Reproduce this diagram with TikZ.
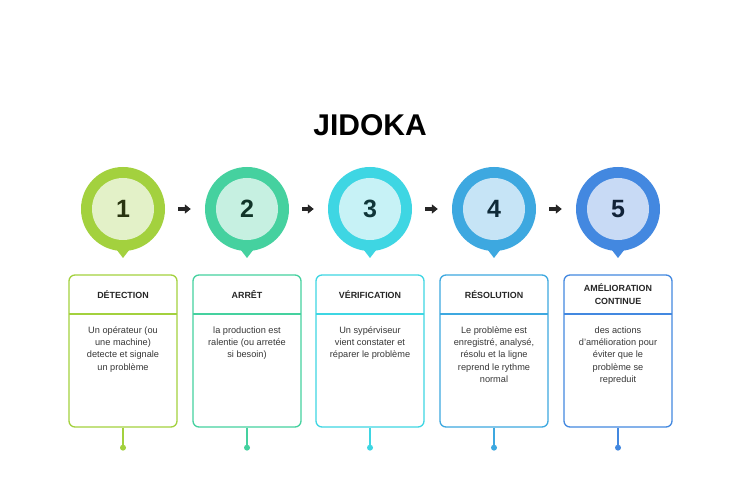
\documentclass[tikz,border=0pt]{standalone}
\usepackage{fontspec}
\setmainfont{Liberation Sans}
\usetikzlibrary{arrows.meta, positioning}

% Colores de las etapas
\definecolor{vertA}{RGB}{163,209,62}
\definecolor{vertAclair}{RGB}{227,241,200}
\definecolor{vertB}{RGB}{69,209,159}
\definecolor{vertBclair}{RGB}{198,240,225}
\definecolor{cyanA}{RGB}{62,214,227}
\definecolor{cyanAclair}{RGB}{199,242,246}
\definecolor{bleuA}{RGB}{61,168,224}
\definecolor{bleuAclair}{RGB}{198,228,246}
\definecolor{bleuB}{RGB}{67,136,224}
\definecolor{bleuBclair}{RGB}{200,218,245}
\definecolor{texteGris}{RGB}{55,55,55}

\begin{document}
\begin{tikzpicture}[x=1pt,y=-1pt,
    pin/.style={circle, fill=#1, minimum size=84pt, inner sep=0pt},
    coeur/.style={circle, fill=#1clair, minimum size=62pt, inner sep=0pt,
        text=#1!25!black, font=\bfseries\fontsize{25}{28}\selectfont},
    boite/.style={draw=#1, line width=1.3pt, rounded corners=6pt, fill=white,
        minimum width=108pt, minimum height=152pt, inner sep=0pt},
    titre/.style={font=\bfseries\fontsize{8.9}{13}\selectfont, align=center,
        text=black!85, inner sep=0pt},
    texte/.style={font=\fontsize{9.2}{12.3}\selectfont, align=center,
        text=texteGris, inner sep=0pt},
    fleche/.style={-{Triangle[length=6pt,width=9pt]}, line width=3.5pt,
        black!85, shorten <=13pt, shorten >=14pt}]

    % Marco del dibujo
    \useasboundingbox[fill=white] (0,0) rectangle (741,486);

    % Titulo
    \node[font=\bfseries\fontsize{30}{34}\selectfont] (jidoka) at (370,125) {JIDOKA};

    % Marcadores con numero, cajas y pies
    \foreach \i/\cx/\col/\tit/\desc in {
        1/123/vertA/{DÉTECTION}/{Un opérateur (ou\\une machine)\\detecte et signale\\un problème},
        2/247/vertB/{ARRÊT}/{la production est\\ralentie (ou arretée\\si besoin)},
        3/370/cyanA/{VÉRIFICATION}/{Un sypérviseur\\vient constater et\\réparer le problème},
        4/494/bleuA/{RÉSOLUTION}/{Le problème est\\enregistré, analysé,\\résolu et la ligne\\reprend le rythme\\normal},
        5/618/bleuB/{AMÉLIORATION\\CONTINUE}/{des actions\\d'amélioration pour\\éviter que le\\problème se\\repreduit}}
    {
        \fill[\col] (\cx-10,245) -- (\cx,258) -- (\cx+10,245) -- cycle;
        \node[pin=\col] (pin\i) at (\cx,209) {};
        \node[coeur=\col] (num\i) at (pin\i) {\i};

        \node[boite=\col] (boite\i) at (\cx,351) {};
        \fill[\col] (\cx-54,313.4) rectangle (\cx+54,314.6);
        \node[titre] (titre\i) at ([yshift=-20pt]boite\i.north) {\tit};
        \node[texte, anchor=north] (desc\i) at ([yshift=-52pt]boite\i.north) {\desc};

        \coordinate (pied\i) at ([yshift=-20pt]boite\i.south);
        \draw[draw=\col, line width=1.3pt] (boite\i.south) -- (pied\i);
        \fill[\col] (pied\i) circle (3pt);
    }

    % Flechas entre etapas
    \foreach \a/\b in {1/2, 2/3, 3/4, 4/5}
        \draw[fleche] (pin\a) -- (pin\b);

\end{tikzpicture}
\end{document}
